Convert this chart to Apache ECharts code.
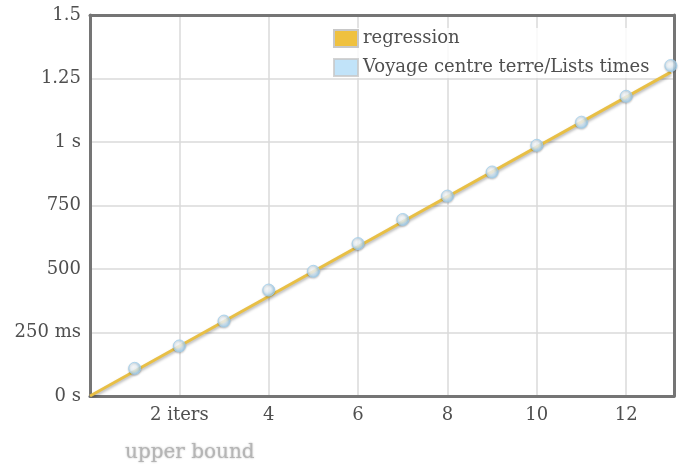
<!DOCTYPE html>
<html>
<head>
<meta charset="utf-8">
<script src="https://cdn.jsdelivr.net/npm/echarts@6/dist/echarts.min.js"></script>
<style>html,body{margin:0;padding:0;background:#fff}#c{width:686px;height:466px}</style>
</head>
<body>
<div id="c"></div>
<script>
// Data (times in milliseconds)
const iterations = [1, 2, 3, 4, 5, 6, 7, 8, 9, 10, 11, 12, 13];
const listTimesMs = [109, 197, 295, 417, 491, 600, 695, 787, 882, 987, 1078, 1180, 1301];
const regressionX = [0, 13];
const regressionY = [0, 1275];
const yTickValues = [0, 250, 500, 750, 1000, 1250, 1500];
const yTickLabels = ['0 s', '250 ms', '500', '750', '1 s', '1.25', '1.5'];
const xTickValues = [2, 4, 6, 8, 10, 12];
const xTickLabels = ['2 iters', '4', '6', '8', '10', '12'];
const seriesNames = ['regression', 'Voyage centre terre/Lists times'];
const axisTitle = 'upper bound';

const FONT = 'DejaVu Serif';
const FRAME = {show: true, onZero: false, lineStyle: {color: '#757575', width: 3}};
const chart = echarts.init(document.getElementById('c'), null, {renderer: 'canvas'});

const pointGradient = new echarts.graphic.RadialGradient(0.4, 0.4, 0.6, [
  {offset: 0, color: '#ffffff'},
  {offset: 0.4, color: '#eef7fd'},
  {offset: 1, color: '#98cbeb'}
]);

const xBase = {type: 'value', min: 0, max: 13.07, interval: 2, axisTick: {show: false}};
const yBase = {type: 'value', min: 0, max: 1500, interval: 250, axisTick: {show: false}};

chart.setOption({
  animation: false,
  title: {
    text: axisTitle,
    left: 120, top: 438,
    textStyle: {fontFamily: FONT, fontSize: 20, fontWeight: 'normal', color: '#b5b5b5',
      textShadowColor: 'rgba(150,150,150,0.7)', textShadowBlur: 2}
  },
  legend: {
    data: [
      {name: seriesNames[0], itemStyle: {color: '#efc13f', borderColor: '#c8c8c8', borderWidth: 2}},
      {name: seriesNames[1], itemStyle: {color: '#b1dcf8', borderColor: '#c8c8c8', borderWidth: 2}}
    ],
    orient: 'vertical',
    left: 332, top: 28,
    icon: 'rect',
    itemWidth: 24, itemHeight: 17,
    itemGap: 10,
    padding: [1, 4, 1, 1],
    backgroundColor: 'rgba(255,255,255,0.85)',
    textStyle: {fontFamily: FONT, fontSize: 18, color: '#4f4f4f'}
  },
  grid: {
    left: 90, right: 12, top: 15, bottom: 70,
    containLabel: false
  },
  xAxis: [
    Object.assign({}, xBase, {
      position: 'bottom',
      axisLine: FRAME,
      splitLine: {show: true, lineStyle: {color: '#dadada', width: 1.5}},
      axisLabel: {
        fontFamily: FONT, fontSize: 18, color: '#4f4f4f', margin: 10,
        showMinLabel: false, showMaxLabel: false,
        formatter: v => { const i = xTickValues.indexOf(v); return i >= 0 ? xTickLabels[i] : ''; }
      }
    }),
    Object.assign({}, xBase, {
      position: 'top', axisLine: FRAME, splitLine: {show: false}, axisLabel: {show: false}
    })
  ],
  yAxis: [
    Object.assign({}, yBase, {
      position: 'left',
      axisLine: FRAME,
      splitLine: {show: true, lineStyle: {color: '#dadada', width: 1.5}},
      axisLabel: {
        fontFamily: FONT, fontSize: 18, color: '#4f4f4f', margin: 9,
        formatter: v => { const i = yTickValues.indexOf(v); return i >= 0 ? yTickLabels[i] : ''; }
      }
    }),
    Object.assign({}, yBase, {
      position: 'right', axisLine: FRAME, splitLine: {show: false}, axisLabel: {show: false}
    })
  ],
  series: [
    {
      name: seriesNames[0], type: 'line',
      data: regressionX.map((x, i) => [x, regressionY[i]]),
      symbol: 'none',
      color: '#efc13f',
      lineStyle: {color: '#e8bf45', width: 3, shadowColor: 'rgba(0,0,0,0.3)', shadowBlur: 3, shadowOffsetY: 2},
      z: 2
    },
    {
      name: seriesNames[1], type: 'scatter',
      data: iterations.map((x, i) => [x, listTimesMs[i]]),
      symbol: 'circle', symbolSize: 12,
      color: '#b1dcf8',
      itemStyle: {color: pointGradient, borderColor: '#a3d0ec', borderWidth: 1,
        shadowColor: 'rgba(0,0,0,0.25)', shadowBlur: 2, shadowOffsetY: 1},
      clip: false,
      z: 3
    }
  ]
});
</script>
</body>
</html>
